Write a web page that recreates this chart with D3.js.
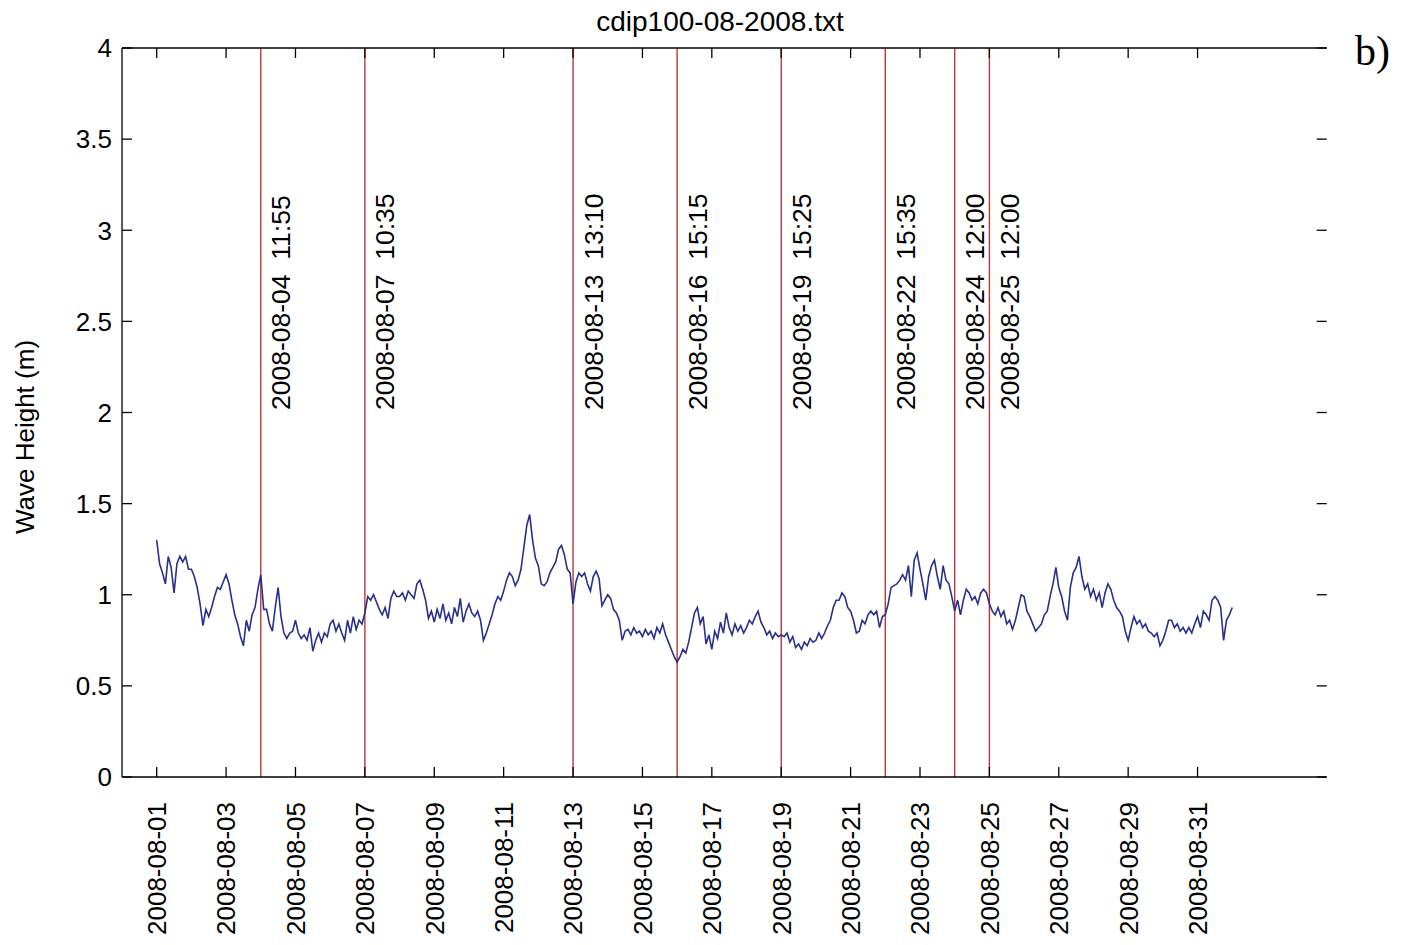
<!DOCTYPE html>
<html><head><meta charset="utf-8">
<script src="https://cdn.jsdelivr.net/npm/d3@7"></script>
<style>
body{margin:0;background:#fff;}
svg{display:block;}
text{font-family:"Liberation Sans",Arial,Helvetica,sans-serif;fill:#000;}
</style></head><body>
<svg id="chart" width="1408" height="945"></svg>
<script>
// ---- data ----
const title = "cdip100-08-2008.txt";
const yLabel = "Wave Height (m)";
const panelTag = "b)";
const seriesStart = "2008-08-01T00:00:00Z";
const stepHours = 2;
const waveHeight = [
 1.30,1.17,1.12,1.06,1.21,1.15,1.01,1.17,1.21,1.18,1.21,1.14,
 1.14,1.10,1.04,0.95,0.83,0.92,0.88,0.93,0.99,1.04,1.03,1.07,
 1.11,1.06,0.97,0.89,0.84,0.77,0.72,0.86,0.80,0.89,0.93,1.03,
 1.11,0.92,0.92,0.84,0.80,0.93,1.04,0.88,0.79,0.76,0.79,0.80,
 0.86,0.79,0.76,0.78,0.75,0.82,0.69,0.75,0.79,0.74,0.79,0.77,
 0.84,0.86,0.80,0.84,0.79,0.75,0.86,0.79,0.88,0.81,0.86,0.84,
 0.90,0.99,0.97,1.00,0.96,0.92,0.89,0.93,0.87,0.98,1.02,0.99,
 0.99,1.01,0.97,1.02,1.00,0.98,1.06,1.08,1.03,0.97,0.87,0.91,
 0.85,0.92,0.87,0.95,0.86,0.90,0.84,0.93,0.88,0.98,0.85,0.91,
 0.95,0.90,0.88,0.91,0.86,0.75,0.79,0.84,0.89,0.95,0.99,0.97,
 1.02,1.08,1.12,1.10,1.05,1.08,1.14,1.26,1.38,1.44,1.30,1.20,
 1.16,1.06,1.05,1.07,1.12,1.15,1.18,1.25,1.27,1.22,1.14,1.12,
 0.95,1.07,1.12,1.10,1.12,1.06,1.02,1.10,1.13,1.09,0.94,0.97,
 1.00,0.98,0.92,0.90,0.86,0.75,0.80,0.81,0.78,0.82,0.79,0.80,
 0.77,0.81,0.78,0.80,0.76,0.82,0.79,0.84,0.78,0.74,0.70,0.66,
 0.63,0.66,0.70,0.68,0.74,0.82,0.90,0.93,0.84,0.88,0.73,0.78,
 0.70,0.80,0.76,0.85,0.79,0.90,0.82,0.78,0.84,0.80,0.83,0.79,
 0.82,0.86,0.84,0.88,0.91,0.85,0.82,0.78,0.80,0.76,0.79,0.77,
 0.78,0.77,0.79,0.74,0.77,0.71,0.73,0.70,0.74,0.72,0.76,0.74,
 0.75,0.79,0.76,0.79,0.83,0.86,0.93,0.97,0.97,1.01,0.99,0.93,
 0.91,0.86,0.79,0.80,0.86,0.84,0.89,0.91,0.89,0.91,0.82,0.88,
 0.89,0.95,1.04,1.05,1.06,1.08,1.11,1.08,1.16,0.99,1.19,1.23,
 1.14,1.06,0.97,1.10,1.16,1.19,1.10,1.03,1.16,1.08,1.06,0.99,
 0.91,0.97,0.89,0.97,1.03,1.01,0.97,0.99,0.95,1.01,1.03,1.01,
 0.95,0.91,0.89,0.93,0.88,0.91,0.84,0.86,0.81,0.86,0.93,1.00,
 0.99,0.91,0.88,0.84,0.80,0.82,0.84,0.89,0.91,0.99,1.06,1.15,
 1.04,0.99,0.91,0.86,1.04,1.12,1.15,1.21,1.10,1.03,1.06,0.99,
 1.03,0.97,1.01,0.93,1.01,1.06,1.03,0.97,0.93,0.91,0.88,0.80,
 0.75,0.82,0.88,0.84,0.86,0.82,0.84,0.80,0.79,0.77,0.79,0.72,
 0.75,0.80,0.86,0.86,0.82,0.84,0.80,0.82,0.79,0.82,0.79,0.84,
 0.88,0.82,0.91,0.89,0.86,0.97,0.99,0.97,0.93,0.75,0.86,0.89,
 0.93
];
const eventDays = ["2008-08-04","2008-08-07","2008-08-13","2008-08-16","2008-08-19","2008-08-22","2008-08-24","2008-08-25"];
const eventTimes = ["11:55","10:35","13:10","15:15","15:25","15:35","12:00","12:00"];
const xTickDays = ["2008-08-01","2008-08-03","2008-08-05","2008-08-07","2008-08-09","2008-08-11","2008-08-13","2008-08-15","2008-08-17","2008-08-19","2008-08-21","2008-08-23","2008-08-25","2008-08-27","2008-08-29","2008-08-31"];
const yTicks = [0,0.5,1,1.5,2,2.5,3,3.5,4];
const xDomain = ["2008-07-31T00:00:00Z","2008-09-03T17:20:00Z"];
const yDomain = [0,4];

// ---- chart ----
const svg = d3.select("#chart");
const L = 122, R = 1326.7, T = 48, B = 777;
const x = d3.scaleUtc().domain(xDomain.map(d => new Date(d))).range([L, R]);
const y = d3.scaleLinear().domain(yDomain).range([B, T]);
const parseDay = d => new Date(d + "T00:00:00Z");
const t0 = new Date(seriesStart).getTime();
const pts = waveHeight.map((v, i) => ({t: new Date(t0 + i * stepHours * 3600e3), v}));

const fs = 26;

// event lines
const ev = svg.append("g");
eventDays.forEach((d, i) => {
  const xx = x(parseDay(d));
  ev.append("line").attr("x1", xx).attr("x2", xx).attr("y1", T).attr("y2", B)
    .attr("stroke", "#b53a3a").attr("stroke-width", 1.4);
  ev.append("text")
    .attr("transform", `translate(${xx + 20},410) rotate(-90)`)
    .attr("dy", "0.36em")
    .attr("font-size", 26.5)
    .attr("xml:space", "preserve")
    .style("white-space", "pre")
    .text(d + "  " + eventTimes[i]);
});

// series
svg.append("path").datum(pts)
  .attr("fill", "none").attr("stroke", "#28308c").attr("stroke-width", 1.6)
  .attr("stroke-linejoin", "miter")
  .attr("d", d3.line().x(d => x(d.t)).y(d => y(d.v)));

// axes frame
const ax = svg.append("g").attr("stroke", "#000").attr("stroke-width", 1.3);
ax.append("line").attr("x1", L).attr("x2", R).attr("y1", T).attr("y2", T);
ax.append("line").attr("x1", L).attr("x2", R).attr("y1", B).attr("y2", B);
ax.append("line").attr("x1", L).attr("x2", L).attr("y1", T).attr("y2", B);

const tl = 10;
xTickDays.forEach(d => {
  const xx = x(parseDay(d));
  ax.append("line").attr("x1", xx).attr("x2", xx).attr("y1", B).attr("y2", B - tl);
  ax.append("line").attr("x1", xx).attr("x2", xx).attr("y1", T).attr("y2", T + tl);
  svg.append("text")
    .attr("transform", `translate(${xx},802) rotate(-90)`)
    .attr("text-anchor", "end").attr("dy", "0.36em")
    .attr("font-size", fs).text(d);
});
yTicks.forEach(v => {
  const yy = y(v);
  ax.append("line").attr("x1", L).attr("x2", L + tl).attr("y1", yy).attr("y2", yy);
  ax.append("line").attr("x1", R - tl).attr("x2", R).attr("y1", yy).attr("y2", yy);
  svg.append("text").attr("x", 112).attr("y", yy).attr("dy", "0.36em")
    .attr("text-anchor", "end").attr("font-size", fs).text(d3.format("")(v));
});

svg.append("text").attr("x", 720).attr("y", 21).attr("dy", "0.36em")
  .attr("text-anchor", "middle").attr("font-size", 28).text(title);
svg.append("text")
  .attr("transform", `translate(25,437) rotate(-90)`)
  .attr("text-anchor", "middle").attr("dy", "0.36em")
  .attr("font-size", fs).text(yLabel);
svg.append("text").attr("x", 1355).attr("y", 65)
  .style("font-family", "'Liberation Serif','Times New Roman',serif")
  .attr("font-size", 42).text(panelTag);
</script>
</body></html>
